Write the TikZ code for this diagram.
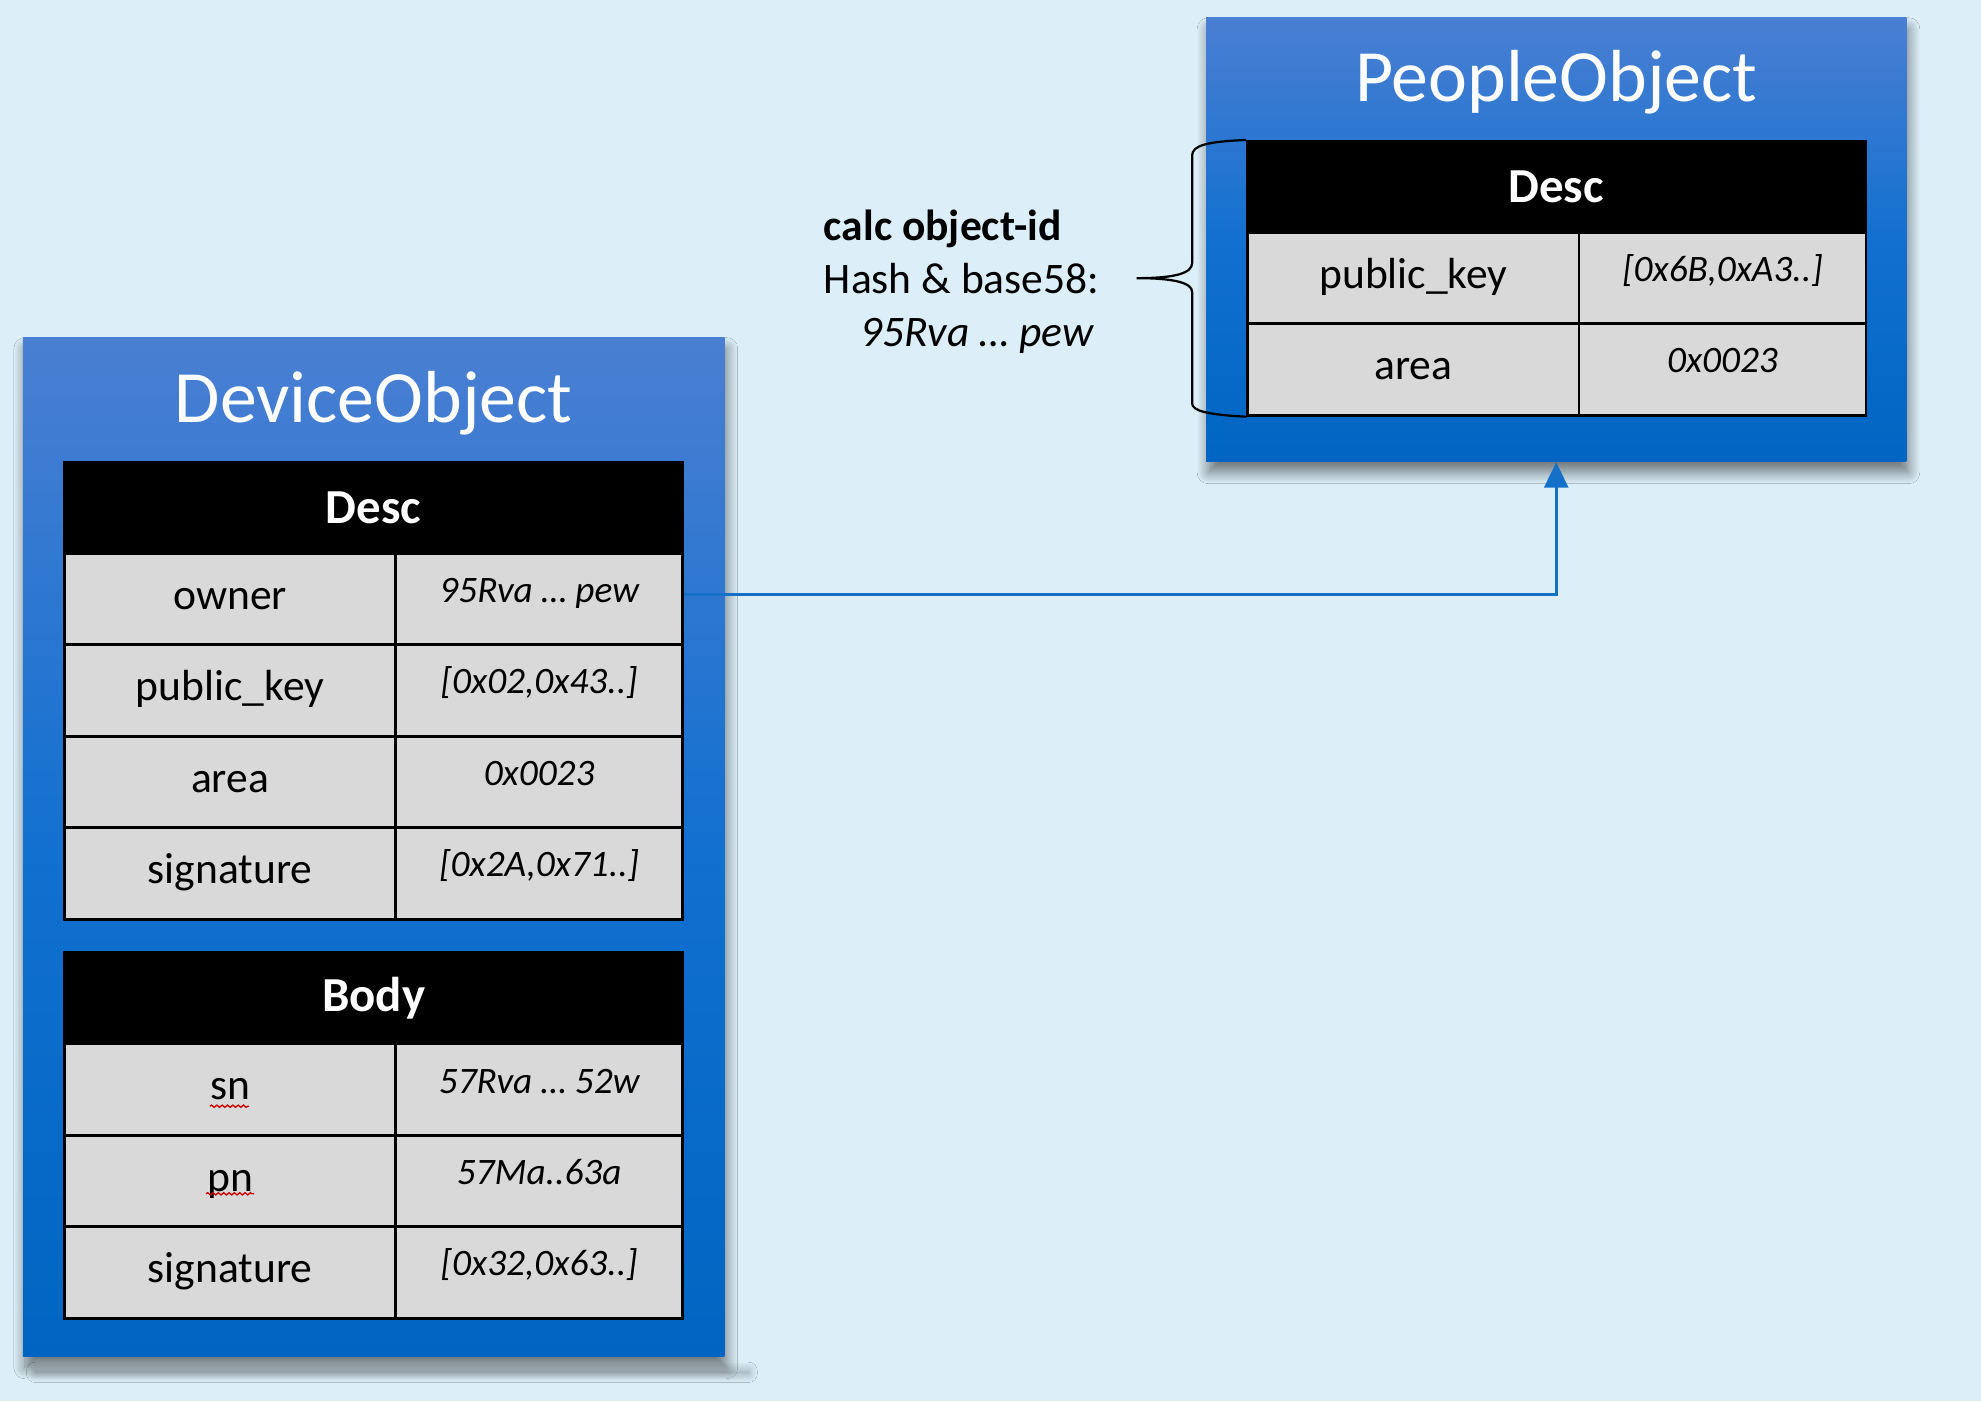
\documentclass[tikz,border=0pt]{standalone}
\usepackage{fontspec}
\setmainfont{Carlito}
\usepackage{xcolor}
\usetikzlibrary{arrows.meta,positioning,shadows.blur,decorations.pathmorphing}

\definecolor{bgblue}{RGB}{220,238,248}
\definecolor{boxtop}{RGB}{74,127,210}
\definecolor{boxmid}{RGB}{18,112,208}
\definecolor{boxbot}{RGB}{0,101,194}
\definecolor{cellgray}{RGB}{217,217,217}
\definecolor{linkblue}{RGB}{21,112,200}

\tikzset{
	objbox/.style={rectangle, inner sep=0pt, top color=boxtop, bottom color=boxbot, middle color=boxmid,
		blur shadow={shadow xshift=0.5pt, shadow yshift=-2.5pt, shadow blur radius=2.5pt,
			shadow blur steps=12, shadow opacity=50}},
	objtitle/.style={text=white, inner sep=0pt, anchor=base, font=\fontsize{16.6}{20}\selectfont},
	headcell/.style={rectangle, draw=black, fill=black, text=white, line width=0.6pt,
		minimum width=4.89cm, minimum height=0.725cm, inner sep=0pt, font=\fontsize{11}{13}\selectfont\bfseries},
	keycell/.style={rectangle, draw=black, fill=cellgray, line width=0.6pt,
		minimum width=2.62cm, minimum height=0.725cm, inner sep=0pt,
		text height=7pt, text depth=2.5pt, font=\fontsize{9.8}{12}\selectfont},
	valcell/.style={rectangle, draw=black, fill=cellgray, line width=0.6pt,
		minimum width=2.27cm, minimum height=0.725cm, inner sep=0pt,
		text height=6.5pt, text depth=5pt, font=\fontsize{8.4}{10}\selectfont\itshape},
	spell/.style={red!80!black, line width=0.3pt, decorate,
		decoration={snake, amplitude=0.25pt, segment length=1.2pt}},
}

\begin{document}
\begin{tikzpicture}
	% background and page size
	\fill[bgblue] (0,0) rectangle (15.67,-11.082);
	\useasboundingbox (0,0) rectangle (15.67,-11.082);

	% stray shadow under the device box
	\path[blur shadow={shadow xshift=0pt, shadow yshift=0pt, shadow blur radius=2pt,
			shadow blur steps=10, shadow opacity=35}]
		(0.28,-10.845) rectangle (5.92,-10.865);

	% device object
	\node[objbox, minimum width=5.55cm, minimum height=8.06cm] (device) at (2.955,-6.70) {};
	\node[objtitle] (devtitle) at (2.955,-3.34) {DeviceObject};

	\node[headcell] (ddesc) at (2.955,-4.02) {Desc};
	\foreach \k/\v/\y [count=\i] in {owner/{95Rva … pew}/4.74, public\_key/{[0x02,0x43..]}/5.463,
			area/{0x0023}/6.186, signature/{[0x2A,0x71..]}/6.91} {
		\node[keycell] (dk\i) at (1.82,-\y) {\k};
		\node[valcell] (dv\i) at (4.265,-\y) {\v};
	}

	\node[headcell] (dbody) at (2.955,-7.895) {Body};
	\foreach \k/\v/\y [count=\i] in {sn/{57Rva … 52w}/8.62, pn/{57Ma..63a}/9.343,
			signature/{[0x32,0x63..]}/10.066} {
		\node[keycell] (bk\i) at (1.82,-\y) {\k};
		\node[valcell] (bv\i) at (4.265,-\y) {\v};
	}
	\draw[spell] ([xshift=-0.16cm,yshift=-0.13cm]bk1.center) -- ++(0.31,0);
	\draw[spell] ([xshift=-0.19cm,yshift=-0.10cm]bk2.center) -- ++(0.38,0);

	% people object
	\node[objbox, minimum width=5.54cm, minimum height=3.51cm] (people) at (12.31,-1.895) {};
	\node[objtitle] (peotitle) at (12.31,-0.805) {PeopleObject};

	\node[headcell] (pdesc) at (12.31,-1.48) {Desc};
	\foreach \k/\v/\y [count=\i] in {public\_key/{[0x6B,0xA3..]}/2.20, area/{0x0023}/2.923} {
		\node[keycell] (pk\i) at (11.18,-\y) {\k};
		\node[valcell] (pv\i) at (13.625,-\y) {\v};
	}

	% object-id note and brace
	\node[align=left, inner sep=0pt, anchor=west, font=\fontsize{9.8}{11.9}\selectfont] (calc) at (6.51,-2.23)
		{\textbf{calc object-id}\\Hash \& base58:\\\hspace*{0.29cm}\textit{95Rva … pew}};
	\draw[line width=0.5pt] (pdesc.north west) .. controls (9.55,-1.12) and (9.43,-1.15) .. (9.43,-1.23)
		-- (9.43,-2.08) .. controls (9.43,-2.16) and (9.30,-2.20) .. (8.99,-2.20)
		.. controls (9.30,-2.20) and (9.43,-2.24) .. (9.43,-2.31)
		-- (9.43,-3.19) .. controls (9.43,-3.25) and (9.55,-3.28) .. (pk2.south west);

	% owner points to people object
	\draw[linkblue, line width=0.6pt, -{Triangle[length=0.2cm,width=0.19cm]}] ([yshift=0.04cm]dv1.east) -| (people.south);
\end{tikzpicture}
\end{document}
